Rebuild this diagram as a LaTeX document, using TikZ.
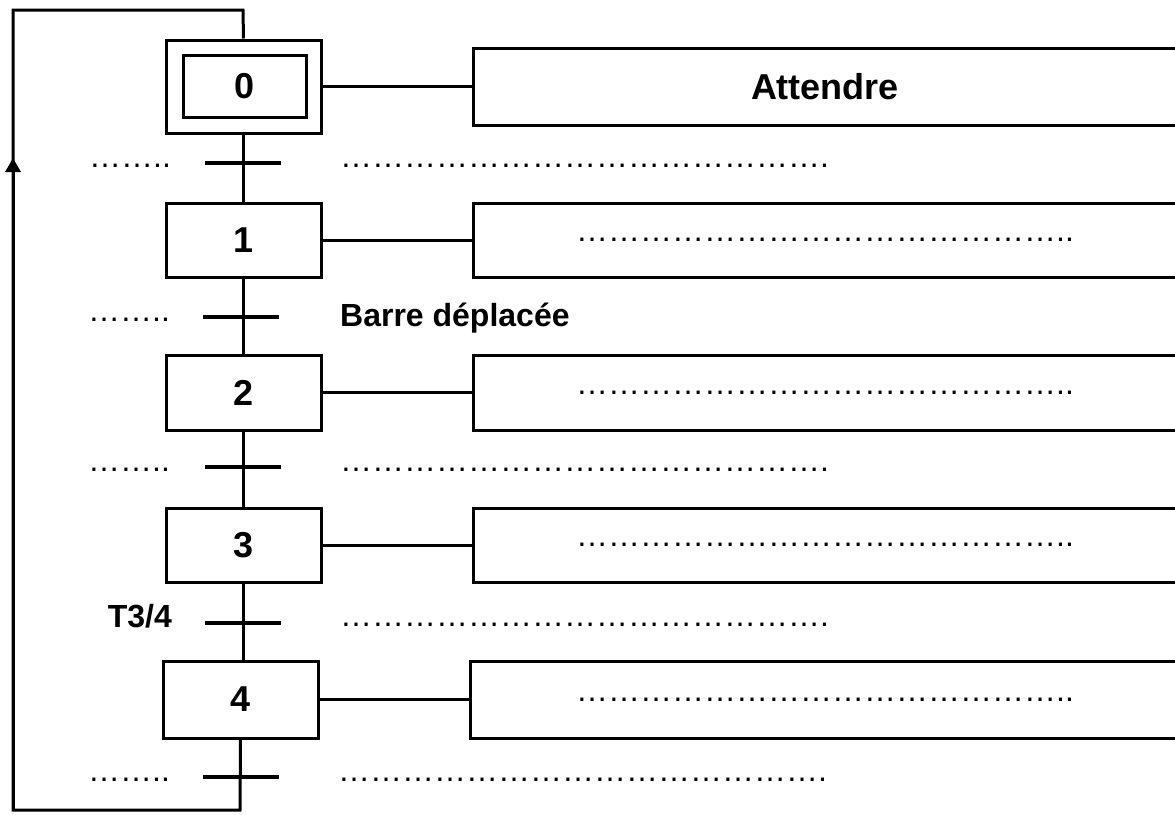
\documentclass[tikz,border=0pt]{standalone}
\usepackage{fontspec}
\setmainfont{Liberation Sans}
\usetikzlibrary{arrows.meta}
\tikzset{
  stepbox/.style={draw, line width=3pt, rectangle, minimum width=155pt, inner sep=0pt, font=\fontsize{36}{38}\selectfont\bfseries},
  actbox/.style={draw, line width=3pt, rectangle, minimum width=704pt, inner sep=0pt, font=\fontsize{32}{36}\selectfont},
  tbar/.style={fill=black, rectangle, minimum width=76pt, minimum height=4pt, inner sep=0pt},
  link/.style={line width=3pt},
  dotstxt/.style={inner sep=0pt, font=\fontsize{32}{36}\selectfont},
  lbl/.style={inner sep=0pt, font=\fontsize{32}{36}\selectfont\bfseries}
}
\newcommand{\elli}{…}
\newcommand{\fivee}{\elli\elli\elli\elli\elli}
\newcommand{\longdots}{\fivee\fivee\fivee.}
\newcommand{\actdots}{\fivee\fivee\fivee..}
\newcommand{\shortdots}{\elli\elli..}
\begin{document}
\begin{tikzpicture}[x=1pt,y=-1pt]
\useasboundingbox (0,0) rectangle (1175,814);
% steps
\node[stepbox, minimum height=93pt] (s0o) at (243.5,86.5) {};
\node[stepbox, minimum width=123pt, minimum height=62pt] (s0) at (244.5,86) {0};
\node[stepbox, minimum height=74pt] (s1) at (243.5,240) {1};
\node[stepbox, minimum height=75pt] (s2) at (243.5,392.5) {2};
\node[stepbox, minimum height=74pt] (s3) at (243.5,545) {3};
\node[stepbox, minimum height=77pt] (s4) at (240.5,699.5) {4};
% actions
\node[actbox, minimum height=77pt, font=\fontsize{36}{38}\selectfont\bfseries] (a0) at (825,86.5) {Attendre};
\node[actbox, minimum height=74pt] (a1) at (825,240) {\actdots};
\node[actbox, minimum height=75pt] (a2) at (825,392.5) {\actdots};
\node[actbox, minimum height=74pt] (a3) at (825,545) {\actdots};
\node[actbox, minimum height=77pt, minimum width=710pt] (a4) at (825,699.5) {\actdots};
% transitions
\node[tbar] (t0) at (243,163) {};
\node[tbar] (t1) at (241,317) {};
\node[tbar] (t2) at (243,467) {};
\node[tbar] (t3) at (243,623) {};
\node[tbar] (t4) at (241,777) {};
% links
\draw[link] (s0o.south) -- (s1.north);
\draw[link] (s1.south) -- (s2.north);
\draw[link] (s2.south) -- (s3.north);
\draw[link] (s3.south) -- (s3.south |- s4.north);
\draw[link] (s0o.east) -- (s0o.east -| a0.west);
\draw[link] (s1.east) -- (a1.west);
\draw[link] (s2.east) -- (a2.west);
\draw[link] (s3.east) -- (a3.west);
\draw[link] (s4.east) -- (a4.west);
% loop
\coordinate (br) at (240,810);
\coordinate (bl) at (13,810);
\coordinate (arr) at (13,158);
\coordinate (tl) at (13,10);
\coordinate (tr) at (243,10);
\draw[link, line join=miter] (s4.south) -- (br) -- (bl) -- (arr);
\draw[link, -{Triangle[width=15pt,length=14pt]}] (bl) -- (arr);
\draw[line width=3pt, line join=miter] (arr) -- (tl) -- (tr) -- (s0o.north);
% transition texts
\node[dotstxt, anchor=base west] (l0) at (89,167.5) {\shortdots};
\node[dotstxt, anchor=base west] (l1) at (88,321.5) {\shortdots};
\node[dotstxt, anchor=base west] (l2) at (88,471.5) {\shortdots};
\node[lbl, anchor=base east] (l3) at (172,627) {T3/4};
\node[dotstxt, anchor=base west] (l4) at (88,781) {\shortdots};
\node[dotstxt, anchor=base west] (r0) at (340,167.5) {\longdots};
\node[lbl, anchor=base west] (r1) at (340,326) {Barre déplacée};
\node[dotstxt, anchor=base west] (r2) at (340,471.5) {\longdots};
\node[dotstxt, anchor=base west] (r3) at (340,626.5) {\longdots};
\node[dotstxt, anchor=base west] (r4) at (338,781) {\longdots};
\end{tikzpicture}
\end{document}
